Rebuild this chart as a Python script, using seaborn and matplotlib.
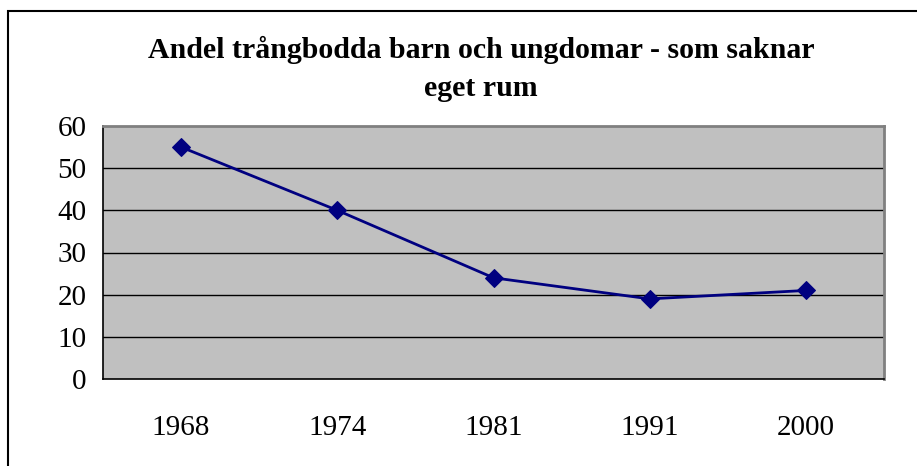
import numpy as np
import pandas as pd
import matplotlib.pyplot as plt
import seaborn as sns
from matplotlib.patches import Rectangle

# data
years = ['1968', '1974', '1981', '1991', '2000']
andel = [55, 40, 24, 19, 21]
title = 'Andel trångbodda barn och ungdomar - som saknar\neget rum'

df = pd.DataFrame({'pos': np.arange(len(years)), 'andel': andel})

sns.set_style('white')
plt.rcParams['font.family'] = ['Liberation Serif', 'DejaVu Serif']
plt.rcParams['text.color'] = 'black'
plt.rcParams['xtick.color'] = 'black'
plt.rcParams['ytick.color'] = 'black'

W, H = 917, 466
fig = plt.figure(figsize=(W / 100, H / 100), dpi=100)

# outer chart border (cut off on right/bottom like the source)
fig.patches.append(Rectangle((8 / W, -0.2), 2, 1.2 - 11 / H, transform=fig.transFigure,
                             fill=False, edgecolor='black', linewidth=1.5))

left, right, top, bottom = 103, 884, 126, 379
ax = fig.add_axes([left / W, (H - bottom) / H, (right - left) / W, (bottom - top) / H])
ax.set_facecolor('#C0C0C0')

for v in [10, 20, 30, 40, 50]:
    ax.axhline(v, color='black', linewidth=1, zorder=1)

sns.lineplot(data=df, x='pos', y='andel', ax=ax, color='#000080', linewidth=2,
             marker='D', markersize=9, markeredgecolor='#000080', zorder=3)

ax.set_xlim(-0.5, len(years) - 0.5)
ax.set_ylim(0, 60)
ax.set_yticks(range(0, 61, 10))
ax.set_xticks(np.arange(-0.5, len(years), 1))
ax.set_xticklabels([])
ax.set_xticks(np.arange(len(years)), minor=True)
ax.set_xticklabels(years, minor=True)
ax.tick_params(axis='x', which='major', direction='out', length=8, width=1, color='black')
ax.tick_params(axis='x', which='minor', length=0, pad=26, labelsize=21)
ax.tick_params(axis='y', direction='out', length=8, width=1, color='black', labelsize=21, pad=4)
ax.set_xlabel('')
ax.set_ylabel('')

for s in ['left', 'bottom']:
    ax.spines[s].set_color('black')
    ax.spines[s].set_linewidth(1.2)
for s in ['top', 'right']:
    ax.spines[s].set_color('#808080')
    ax.spines[s].set_linewidth(2)

fig.text(481 / W, 1 - 69 / H, title, ha='center', va='center', fontsize=21.5,
         fontweight='bold', linespacing=1.55)

fig.savefig('out.png', dpi=100)
